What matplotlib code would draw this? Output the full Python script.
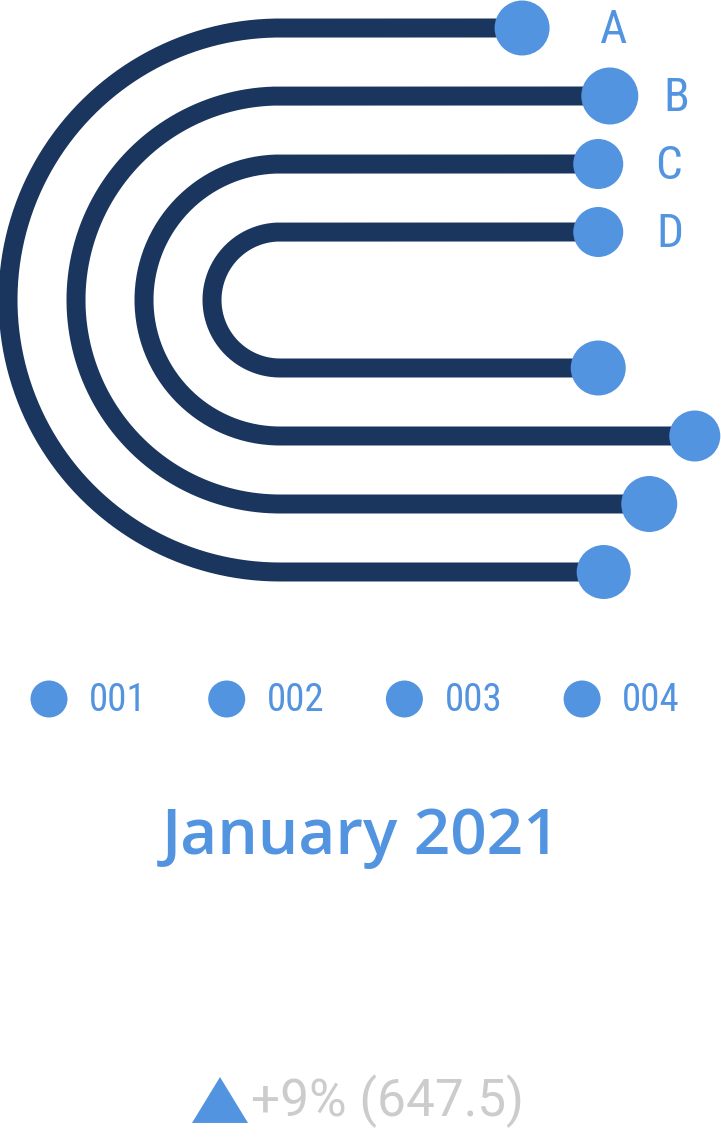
import numpy as np
import matplotlib.pyplot as plt

# ring data (outer -> inner)
categories = ['A', 'B', 'C', 'D']
radius = [4, 3, 2, 1]
top_end = [3.56, 4.85, 4.68, 4.68]       # length of upper tail
bottom_end = [4.76, 5.43, 6.10, 4.68]    # length of lower tail
top_dot = [55, 57, 50, 50]               # end bubble diameters (px)
bottom_dot = [54, 56, 51, 55]
label_dx = [78, 54, 57, 58]

legend_labels = ['001', '002', '003', '004']
title = 'January 2021'
change_text = '+9% (647.5)'

NAVY = '#1a355e'
BLUE = '#5394e0'
GREY = '#cccccc'
W, H = 721, 1137
PX = 68          # px per ring unit
CX, CY = 280, 300

narrow = ['Liberation Sans Narrow', 'Roboto Condensed', 'Roboto', 'DejaVu Sans']

fig = plt.figure(figsize=(W / 100, H / 100), dpi=100)
ax = fig.add_axes([0, 0, 1, 1])
ax.set_xlim(-CX / PX, (W - CX) / PX)
ax.set_ylim((CY - H) / PX, CY / PX)
ax.set_aspect('equal')
ax.axis('off')

t = np.linspace(np.pi / 2, 3 * np.pi / 2, 200)
for cat, r, te, be, td, bd, dx in zip(categories, radius, top_end, bottom_end,
                                      top_dot, bottom_dot, label_dx):
    xs = np.concatenate([[te], r * np.cos(t), [be]])
    ys = np.concatenate([[r], r * np.sin(t), [-r]])
    ax.plot(xs, ys, color=NAVY, lw=19 * 0.72, solid_capstyle='butt', zorder=2)
    ax.scatter([te, be], [r, -r], s=[(td * 0.72) ** 2, (bd * 0.72) ** 2],
               color=BLUE, edgecolors='none', zorder=3)
    ax.text(te + dx / PX, r - 15 / PX, cat, color=BLUE, fontsize=34,
            family=narrow, ha='left', va='baseline')

# overlay in pixel coords for legend and captions
ov = fig.add_axes([0, 0, 1, 1])
ov.set_xlim(0, W)
ov.set_ylim(H, 0)
ov.axis('off')

for i, lab in enumerate(legend_labels):
    x0 = 49 + i * 177.7
    ov.scatter([x0], [699], s=(37 * 0.72) ** 2, color=BLUE, edgecolors='none')
    ov.text(x0 + 40, 711, lab, color=BLUE, fontsize=28, family=narrow,
            ha='left', va='baseline')

ov.text(361, 854, title, color=BLUE, fontsize=46, family=['Open Sans', 'DejaVu Sans'],
        fontweight='semibold', ha='center', va='baseline')

tri = [(-1, -0.82), (1, -0.82), (0, 0.82)]
ov.scatter([220], [1100], marker=tri, s=(56 * 0.72) ** 2, color=BLUE, edgecolors='none')
ov.text(251, 1116, change_text, color=GREY, fontsize=37,
        family=['Roboto', 'DejaVu Sans'], fontweight='normal', ha='left', va='baseline')

fig.savefig('out.png', dpi=100)
